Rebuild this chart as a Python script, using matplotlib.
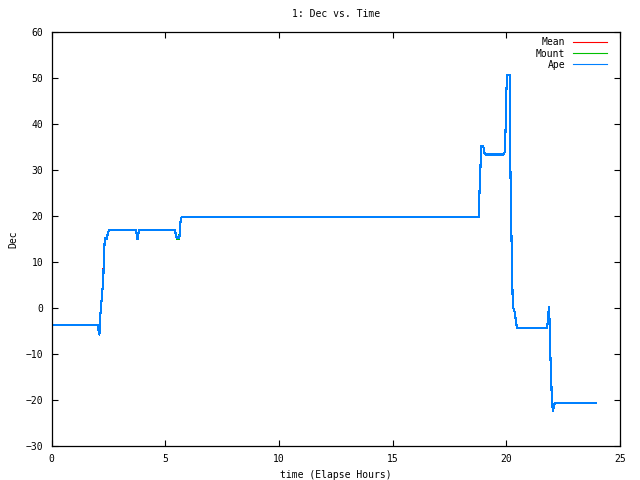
import matplotlib
matplotlib.use("Agg")
import matplotlib.pyplot as plt

# -------------------------
# Data
# -------------------------

time_hours = [0.0, 2.05, 2.05, 2.10, 2.15, 2.15, 2.19, 2.23, 2.28, 2.31, 2.35, 2.43,
              2.48, 2.54, 3.69, 3.72, 3.76, 3.78, 3.80, 3.85, 5.43, 5.47, 5.52, 5.62,
              5.64, 5.66, 5.71, 5.75, 18.81, 18.81, 18.87, 18.89, 18.99, 19.03, 19.07,
              19.88, 19.93, 19.97, 20.00, 20.04, 20.15, 20.15, 20.18, 20.22, 20.26,
              20.29, 20.38, 20.43, 20.47, 21.79, 21.82, 21.85, 21.89, 21.92, 21.97,
              22.00, 22.05, 22.10, 22.14, 23.95]

ape_dec = [-3.7, -3.7, -4.45, -5.8, -4.2, -1.3, 1.05, 3.2, 6.9, 12.4, 15.1, 15.1,
           16.4, 17.0, 17.0, 16.6, 15.65, 14.9, 15.65, 17.0, 17.0, 15.7, 15.2, 15.2,
           16.3, 18.4, 19.7, 19.8, 19.8, 23.6, 31.4, 35.2, 35.2, 33.9, 33.4,
           33.4, 33.9, 39.1, 46.8, 50.7, 50.7, 43.9, 30.7, 18.0, 6.2,
           0.2, -1.05, -3.2, -4.4, -4.4, -3.2, -1.2, 0.2, -8.3, -13.9,
           -19.6, -22.5, -21.1, -20.7, -20.7]

mean_dec = [-3.7, -3.7, -4.45, -5.8, -4.2, -1.3, 1.05, 3.2, 6.9, 12.6, 15.0, 15.0,
            16.4, 17.0, 17.0, 16.4, 16.0, 14.9, 15.65, 17.0, 17.0, 15.7, 15.2, 15.2,
            16.3, 18.4, 19.7, 19.8, 19.8, 23.6, 31.4, 35.2, 35.2, 33.9, 33.4,
            33.4, 33.9, 39.1, 46.8, 50.7, 50.7, 43.9, 30.9, 18.0, 6.2,
            0.2, -1.05, -3.2, -4.4, -4.4, -3.2, -1.2, 0.2, -8.3, -13.9,
            -19.6, -22.5, -21.1, -20.7, -20.7]

mount_dec = [-3.7, -3.7, -4.45, -5.8, -4.2, -1.3, 1.05, 3.2, 6.9, 12.4, 15.1, 15.1,
             16.4, 17.0, 17.0, 16.6, 15.65, 14.9, 15.65, 17.0, 17.0, 16.0, 15.0, 15.0,
             16.6, 18.4, 19.7, 19.8, 19.8, 23.6, 31.4, 35.2, 35.2, 33.9, 33.4,
             33.4, 33.9, 39.1, 46.8, 50.7, 50.7, 43.9, 30.7, 18.0, 6.2,
             0.2, -1.05, -3.2, -4.4, -4.4, -3.2, -1.2, 0.2, -8.3, -13.9,
             -19.6, -22.5, -21.1, -20.7, -20.7]

x_ticks = [0, 5, 10, 15, 20, 25]
y_ticks = [-30, -20, -10, 0, 10, 20, 30, 40, 50, 60]

# -------------------------
# Plot
# -------------------------

plt.rcParams["font.family"] = ["DejaVu Sans Mono"]
plt.rcParams["font.size"] = 7

fig = plt.figure(figsize=(6.4, 4.8), dpi=100)
ax = fig.add_axes([0.0805, 0.0715, 0.8882, 0.8612])

# gnuplot style: thin lines, no antialiasing
ax.plot(time_hours, mean_dec, color="#ff0000", lw=0.8, label="Mean", antialiased=False)
ax.plot(time_hours, mount_dec, color="#00c000", lw=0.8, label="Mount", antialiased=False)
ax.plot(time_hours, ape_dec, color="#0080ff", lw=0.8, label="Ape", antialiased=False)

ax.set_xlim(0, 25)
ax.set_ylim(-30, 60)
ax.set_xticks(x_ticks)
ax.set_yticks(y_ticks)
ax.tick_params(direction="in", length=4.5, width=0.8, top=True, right=True,
               pad=6, labelsize=7)
for spine in ax.spines.values():
    spine.set_linewidth(0.9)

ax.set_title("1: Dec vs. Time", fontsize=7, pad=11)
ax.set_xlabel("time (Elapse Hours)", fontsize=7, labelpad=4)
ax.set_ylabel("Dec", fontsize=7, labelpad=5)

ax.legend(loc="upper right", bbox_to_anchor=(0.984, 0.997), frameon=False,
          markerfirst=False, fontsize=7, handlelength=3.5, handletextpad=0.8,
          labelspacing=0.12, borderaxespad=0.0)

fig.savefig("out.png", dpi=100)
